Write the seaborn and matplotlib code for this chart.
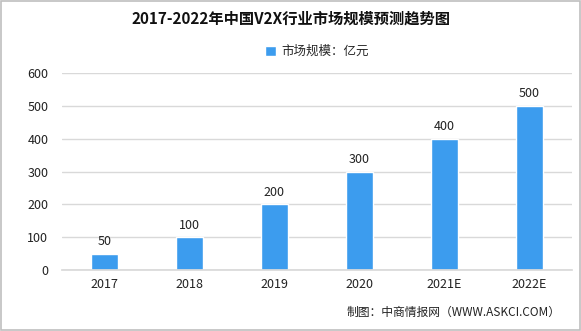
import matplotlib
matplotlib.use("Agg")
import matplotlib.pyplot as plt
import seaborn as sns
import pandas as pd
from matplotlib.patches import Rectangle

years = ["2017", "2018", "2019", "2020", "2021E", "2022E"]
values = [50, 100, 200, 300, 400, 500]
series_name = "市场规模：亿元"
title = "2017-2022年中国V2X行业市场规模预测趋势图"
source = "制图：中商情报网（WWW.ASKCI.COM）"

sns.set_theme(style="white")
plt.rcParams['font.family'] = ['Noto Sans CJK SC', 'DejaVu Sans']

df = pd.DataFrame({"year": years, "value": values})
fig = plt.figure(figsize=(5.81, 3.31), dpi=100)
ax = fig.add_axes([0.107, 0.184, 0.877, 0.595])
color = "#3C9CEE"
sns.barplot(data=df, x="year", y="value", color=color, width=0.32, ax=ax,
            saturation=1, label=series_name)
ax.set_ylim(0, 600)
ax.set_yticks(range(0, 601, 100))
ax.yaxis.grid(True, color="#D9D9D9", linewidth=1)
ax.set_axisbelow(True)
for s in ax.spines.values():
    s.set_visible(False)
ax.spines['bottom'].set_visible(True)
ax.spines['bottom'].set_color("#D9D9D9")
ax.set_xlabel("")
ax.set_ylabel("")
ax.tick_params(axis='both', length=0, labelsize=9, colors="#222222")
ax.tick_params(axis='x', pad=6)
ax.tick_params(axis='y', pad=10)
for c in ax.containers:
    ax.bar_label(c, padding=4, fontsize=9, color="#222222")
ax.set_xlim(-0.5, 5.5)

leg = ax.legend(loc="upper center", bbox_to_anchor=(0.5, 1.2), frameon=False,
                fontsize=9, handlelength=0.9, handleheight=0.9, handletextpad=0.4)

fig.text(0.5, 0.945, title, ha="center", va="center", fontsize=11, fontweight="bold", color="#111111")
fig.text(0.965, 0.055, source, ha="right", va="center", fontsize=8.5, color="#222222")
fig.patches.append(Rectangle((0.002, 0.003), 0.996, 0.994, transform=fig.transFigure,
                             fill=False, edgecolor="#BFBFBF", linewidth=1.2))
fig.savefig("out.png", dpi=100)
